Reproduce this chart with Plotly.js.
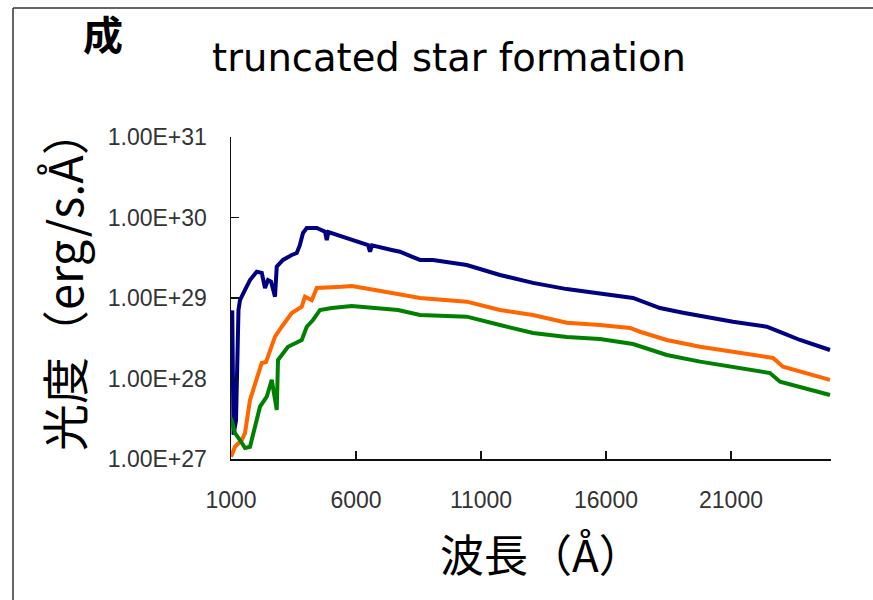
<!DOCTYPE html>
<html>
<head>
<meta charset="utf-8">
<script src="https://cdn.plot.ly/plotly-3.0.1.min.js"></script>
<style>html,body{margin:0;padding:0;background:#fff;}#chart{width:873px;height:600px;}</style>
</head>
<body>
<div id="chart"></div>
<script>
// Wavelength (Å) and luminosity (erg/s/Å)
const blueX = [1000, 1050, 1100, 1200, 1300, 1360, 1560, 1760, 2030, 2230, 2360, 2480, 2600, 2760, 2830, 3080, 3430, 3630, 3750, 3880, 4030, 4430, 4760, 4830, 4900, 5430, 6080, 6480, 6560, 6640, 7430, 7760, 8230, 8560, 9080, 10430, 11760, 13080, 14430, 15760, 17080, 18160, 19080, 21080, 22430, 23080, 23760, 24960];
const blueY = [5.0e28, 7.0e28, 2.0e27, 3.0e27, 7.1e28, 9.4e28, 1.26e29, 1.67e29, 2.12e29, 2.05e29, 1.33e29, 1.67e29, 1.6e29, 1.04e29, 2.45e29, 2.97e29, 3.42e29, 3.62e29, 4.5e29, 6.42e29, 7.41e29, 7.41e29, 6.66e29, 5.25e29, 6.6e29, 5.77e29, 5.0e29, 4.55e29, 3.76e29, 4.5e29, 3.95e29, 3.76e29, 3.26e29, 2.97e29, 2.97e29, 2.57e29, 1.93e29, 1.54e29, 1.29e29, 1.15e29, 1.0e29, 7.5e28, 6.57e28, 5.08e28, 4.40e28, 3.67e28, 3.01e28, 2.26e28];

const orangeX = [1000, 1160, 1430, 1560, 1760, 2030, 2230, 2400, 2560, 2760, 3030, 3430, 3830, 3960, 4230, 4430, 5430, 5830, 6760, 7700, 8560, 10430, 11760, 13080, 14430, 15760, 16960, 17360, 18430, 19760, 21080, 22680, 23080, 23760, 24960];
const orangeY = [1.07e27, 1.42e27, 1.72e27, 2.1e27, 5.4e27, 1.05e28, 1.56e28, 1.6e28, 2.26e28, 3.31e28, 4.40e28, 6.5e28, 7.8e28, 1.04e29, 9.4e28, 1.33e29, 1.38e29, 1.41e29, 1.26e29, 1.1e29, 1.0e29, 9.0e28, 7.1e28, 6.15e28, 4.93e28, 4.62e28, 4.24e28, 3.81e28, 3.01e28, 2.48e28, 2.15e28, 1.80e28, 1.40e28, 1.21e28, 9.6e27];

const greenX = [1000, 1160, 1360, 1560, 1760, 1960, 2160, 2430, 2630, 2830, 2880, 3280, 3830, 4030, 4280, 4560, 5030, 5830, 6760, 7680, 8560, 10430, 11760, 13080, 14430, 15760, 17080, 18430, 19760, 21080, 22560, 22960, 23760, 24960];
const greenY = [3.23e27, 2.1e27, 1.72e27, 1.37e27, 1.42e27, 2.52e27, 4.47e27, 5.94e27, 9.6e27, 4.06e27, 1.70e28, 2.48e28, 3.01e28, 4.40e28, 5.33e28, 7.1e28, 7.5e28, 7.96e28, 7.5e28, 7.1e28, 6.15e28, 5.86e28, 4.62e28, 3.67e28, 3.28e28, 3.10e28, 2.68e28, 1.96e28, 1.62e28, 1.40e28, 1.17e28, 9.1e27, 7.9e27, 6.24e27];

const xTickVals = [1000, 6000, 11000, 16000, 21000];
const xTickText = ['1000', '6000', '11000', '16000', '21000'];
const yTickVals = [1e27, 1e28, 1e29, 1e30, 1e31];
const yTickText = ['1.00E+27', '1.00E+28', '1.00E+29', '1.00E+30', '1.00E+31'];

const titleText = 'truncated star formation';
const cornerText = '成';
const xTitle = '波長（Å）';
const yTitle = '光度（erg/s.Å）';

const lineW = 4;
const traces = [
  {x: blueX, y: blueY, mode: 'lines', line: {color: '#000080', width: lineW}, hoverinfo: 'skip'},
  {x: orangeX, y: orangeY, mode: 'lines', line: {color: '#FF6600', width: lineW}, hoverinfo: 'skip'},
  {x: greenX, y: greenY, mode: 'lines', line: {color: '#008000', width: lineW}, hoverinfo: 'skip'}
];
const cjk = '"Noto Sans CJK JP", "Noto Sans", sans-serif';
const tickFont = {family: '"Liberation Sans", Arial, sans-serif', size: 23, color: '#333'};
// pixel helpers for paper coordinates (plot area: x 231..831, y 137..459)
const px = v => (v - 231) / 600;
const py = v => (459 - v) / 322;
const layout = {
  width: 873, height: 600,
  margin: {l: 231, r: 42, t: 137, b: 141},
  paper_bgcolor: '#fff', plot_bgcolor: '#fff',
  showlegend: false,
  title: {text: titleText, font: {family: '"DejaVu Sans", sans-serif', size: 38.5, color: '#000'}, x: 449/873, xref: 'container', xanchor: 'center', y: 1 - 58/600, yref: 'container', yanchor: 'middle'},
  xaxis: {
    type: 'linear', range: [1000, 25000], autorange: false,
    tickvals: xTickVals, ticktext: xTickText,
    ticks: 'inside', ticklen: 8, tickwidth: 1.5, tickcolor: '#111',
    showline: true, linecolor: '#111', linewidth: 1.5,
    showgrid: false, zeroline: false,
    tickfont: tickFont, ticklabelstandoff: 20
  },
  yaxis: {
    type: 'log', range: [27, 31], autorange: false,
    tickvals: yTickVals, ticktext: yTickText,
    ticks: 'inside', ticklen: 8, tickwidth: 1.5, tickcolor: '#111',
    showline: true, linecolor: '#111', linewidth: 1.5,
    showgrid: false, zeroline: false,
    tickfont: tickFont, ticklabelstandoff: 18
  },
  annotations: [
    {text: cornerText, xref: 'paper', yref: 'paper', x: px(103), y: py(33), xanchor: 'center', yanchor: 'middle', showarrow: false,
     font: {family: cjk, size: 40, color: '#000', weight: 'bold'}},
    {text: xTitle, xref: 'paper', yref: 'paper', x: px(541), y: py(553), xanchor: 'center', yanchor: 'middle', showarrow: false,
     font: {family: cjk, size: 44, color: '#000'}},
    {text: yTitle, xref: 'paper', yref: 'paper', x: px(62), y: py(280), xanchor: 'center', yanchor: 'middle', showarrow: false, textangle: -90,
     font: {family: cjk, size: 47, color: '#000'}}
  ],
  shapes: [
    {type: 'line', xref: 'paper', yref: 'paper', x0: px(13), x1: px(873), y0: py(8), y1: py(8), line: {color: '#333', width: 1.5}},
    {type: 'line', xref: 'paper', yref: 'paper', x0: px(13), x1: px(13), y0: py(8), y1: py(600), line: {color: '#333', width: 1.5}}
  ]
};
Plotly.newPlot('chart', traces, layout, {displayModeBar: false, staticPlot: true});
</script>
</body>
</html>
